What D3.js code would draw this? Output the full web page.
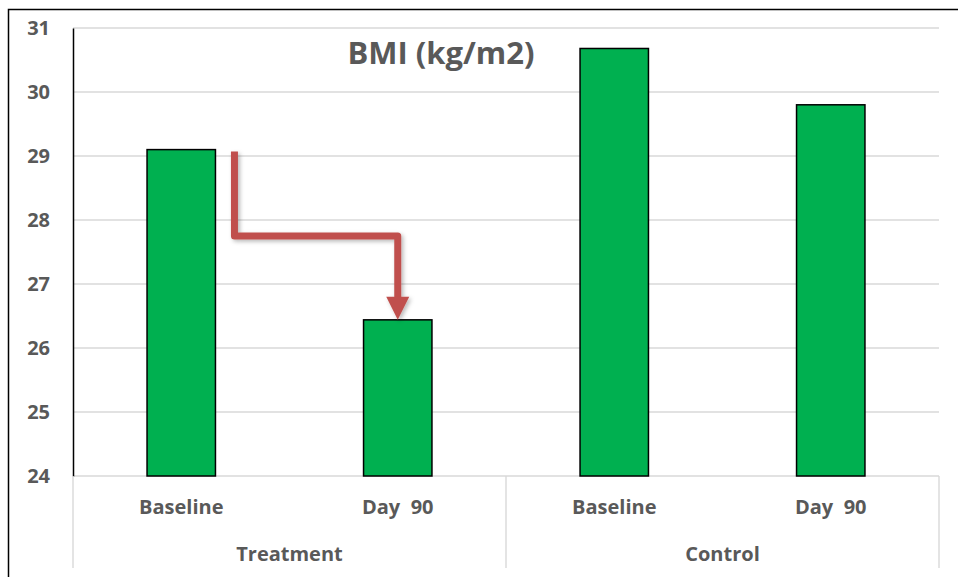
<!DOCTYPE html>
<html><head><meta charset="utf-8">
<script src="https://cdn.jsdelivr.net/npm/d3@7"></script>
<style>body{margin:0;background:#fff}svg{display:block}text{font-family:"Open Sans",Lato,sans-serif;font-weight:700;fill:#595959}</style>
</head><body>
<script>
const groups = ["Treatment","Treatment","Control","Control"];
const categories = ["Baseline","Day  90","Baseline","Day  90"];
const values = [29.1, 26.44, 30.68, 29.8];
const yTicks = [24,25,26,27,28,29,30,31];
const groupLabels = ["Treatment","Control"];
const title = "BMI (kg/m2)";

const W=958,H=577;
const svg=d3.select("body").append("svg").attr("width",W).attr("height",H);
const defs=svg.append("defs");
const f=defs.append("filter").attr("id","sh").attr("x","-20%").attr("y","-20%").attr("width","150%").attr("height","150%");
f.append("feDropShadow").attr("dx",2).attr("dy",2).attr("stdDeviation",2).attr("flood-color","#000").attr("flood-opacity",0.28);

svg.append("path").attr("d","M8.5,577V9.5H958").attr("fill","none").attr("stroke","#000").attr("stroke-width",1.5);

const keys=categories.map((c,i)=>i);
const x=d3.scaleBand().domain(keys).range([73,939]).paddingInner(0.684).paddingOuter(0.342);
const y=d3.scaleLinear().domain([24,31]).range([476,28]);

svg.append("g").selectAll("line").data(yTicks).join("line")
 .attr("x1",73).attr("x2",939).attr("y1",d=>y(d)).attr("y2",d=>y(d))
 .attr("stroke","#d9d9d9").attr("stroke-width",1.4);

const ya=svg.append("g").attr("transform","translate(73,0)")
 .call(d3.axisLeft(y).tickValues(yTicks).tickFormat(d3.format("d")).tickSize(0).tickPadding(23));
ya.select(".domain").attr("stroke","#000").attr("stroke-width",1.5);
ya.selectAll("text").style("font-size","20px").attr("fill","#595959").attr("dy","0.33em");

svg.append("g").selectAll("rect").data(values).join("rect")
 .attr("x",(d,i)=>x(i)).attr("width",x.bandwidth())
 .attr("y",d=>y(d)).attr("height",d=>y(24)-y(d))
 .attr("fill","#00b050").attr("stroke","#000").attr("stroke-width",1.5);

const step=x.step();
const gx=svg.append("g");
const seps=[73, 73+2*step, 939];
gx.selectAll("line.sep").data(seps).join("line").attr("class","sep")
 .attr("x1",d=>d).attr("x2",d=>d).attr("y1",476).attr("y2",568)
 .attr("stroke","#d9d9d9").attr("stroke-width",1.4);
gx.selectAll("text.cat").data(categories).join("text").attr("class","cat")
 .attr("x",(d,i)=>x(i)+x.bandwidth()/2).attr("y",514).attr("text-anchor","middle")
 .style("font-size","20px").style("white-space","pre").text(d=>d);
gx.selectAll("text.grp").data(groupLabels).join("text").attr("class","grp")
 .attr("x",(d,i)=>73+step*(2*i+1)).attr("y",561).attr("text-anchor","middle")
 .style("font-size","20px").text(d=>d);

svg.append("text").attr("x",441).attr("y",64).attr("text-anchor","middle").style("font-size","31px").text(title);

const sx=x(0)+x.bandwidth()+19, ex=x(1)+x.bandwidth()/2;
const sy=y(values[0])+2, tip=y(values[1]);
const my2=y(27.75);
const ag=svg.append("g").attr("filter","url(#sh)");
ag.append("path").attr("d",`M${sx},${sy}V${my2}H${ex}V${tip-20}`)
 .attr("fill","none").attr("stroke","#c0504d").attr("stroke-width",7).attr("stroke-linejoin","round");
ag.append("path").attr("d",`M${ex-11.5},${tip-23}L${ex+11.5},${tip-23}L${ex},${tip}Z`).attr("fill","#c0504d");
</script>
</body></html>
